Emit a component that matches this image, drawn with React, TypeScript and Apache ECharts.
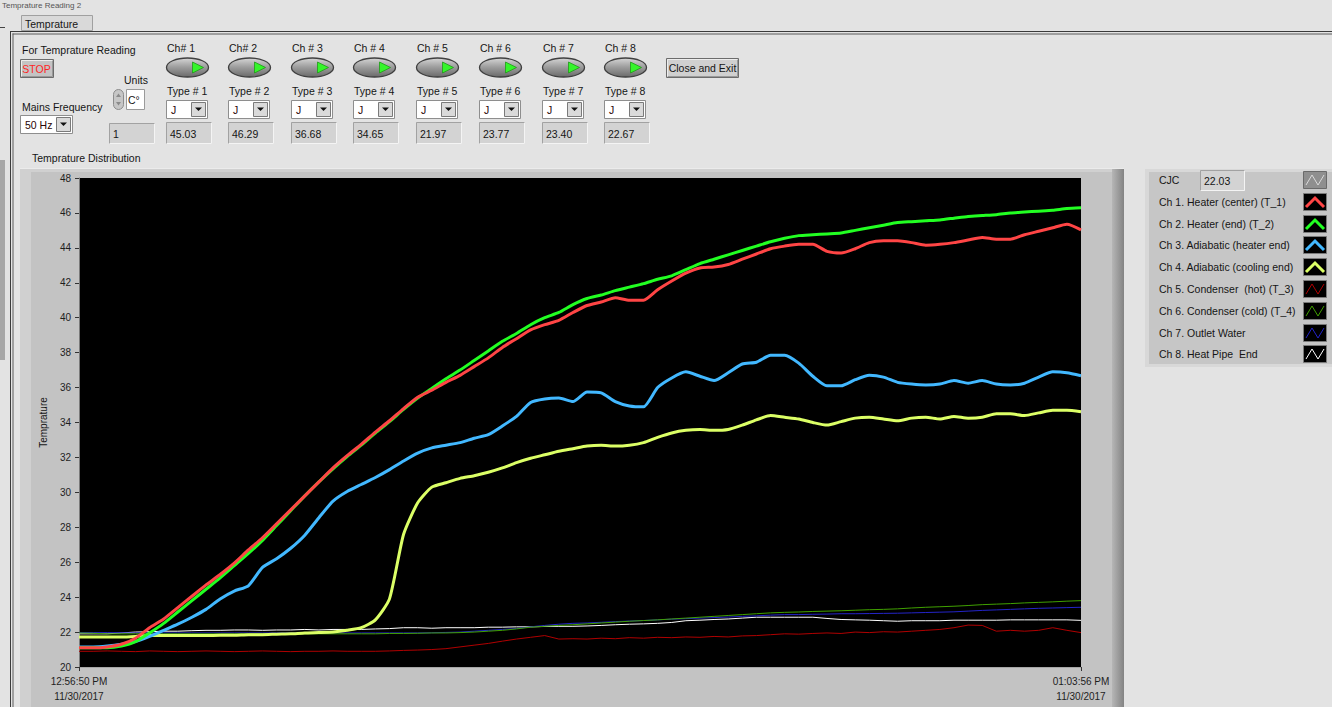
import React, { useEffect, useRef } from 'react';
import * as echarts from 'echarts';

// ---------------- DATA ----------------
// time in seconds after 12:56:50 PM
const TIME_S = [
  0, 6, 12, 18, 24, 30, 36, 42, 48, 54, 60, 66, 72, 78, 84, 90, 96, 102, 108, 114,
  120, 126, 132, 138, 144, 150, 156, 162, 168, 174, 180, 186, 192, 198, 204, 210, 216, 222, 228, 234,
  240, 246, 252, 258, 264, 270, 276, 282, 288, 294, 300, 306, 312, 318, 324, 330, 336, 342, 348, 354,
  360, 366, 372, 378, 384, 390, 396, 402, 408, 414, 420, 426,
];

const CH1_HEATER_CENTER = [
  21.1, 21.1, 21.15, 21.3, 21.65, 22.25, 22.75, 23.4, 24.05, 24.7,
  25.3, 25.95, 26.7, 27.4, 28.2, 29.0, 29.8, 30.6, 31.4, 32.1,
  32.75, 33.45, 34.1, 34.8, 35.45, 35.85, 36.3, 36.7, 37.2, 37.7,
  38.3, 38.8, 39.3, 39.6, 39.85, 40.3, 40.7, 40.9, 41.15, 41.0,
  41.0, 41.6, 42.1, 42.55, 42.85, 42.9, 43.05, 43.35, 43.65, 43.95,
  44.1, 44.2, 44.2, 43.8, 43.7, 43.95, 44.3, 44.4, 44.4, 44.3,
  44.15, 44.2, 44.3, 44.45, 44.6, 44.5, 44.5, 44.75, 44.95, 45.15,
  45.35, 45.03,
];

const CH2_HEATER_END = [
  21.1, 21.1, 21.1, 21.2, 21.45, 21.95, 22.5, 23.15, 23.8, 24.45,
  25.1, 25.8, 26.5, 27.25, 28.1, 28.95, 29.8, 30.6, 31.35, 32.05,
  32.7, 33.4, 34.05, 34.75, 35.4, 35.95, 36.5, 37.0, 37.55, 38.1,
  38.65, 39.1, 39.6, 40.0, 40.3, 40.75, 41.1, 41.3, 41.55, 41.75,
  41.95, 42.2, 42.4, 42.75, 43.1, 43.35, 43.6, 43.85, 44.1, 44.35,
  44.55, 44.7, 44.75, 44.8, 44.85, 45.0, 45.15, 45.3, 45.45, 45.5,
  45.55, 45.6, 45.7, 45.8, 45.85, 45.9, 46.0, 46.05, 46.1, 46.15,
  46.25, 46.29,
];

const CH3_ADIABATIC_HEATER = [
  21.15, 21.15, 21.2, 21.3, 21.45, 21.75, 22.1, 22.45, 22.85, 23.3,
  23.9, 24.35, 24.65, 25.7, 26.2, 26.8, 27.55, 28.55, 29.5, 30.05,
  30.45, 30.85, 31.3, 31.8, 32.25, 32.55, 32.7, 32.85, 33.1, 33.3,
  33.8, 34.35, 35.15, 35.35, 35.4, 35.2, 35.75, 35.7, 35.2, 34.95,
  34.9, 36.0, 36.55, 36.9, 36.65, 36.4, 36.85, 37.35, 37.45, 37.85,
  37.85, 37.4, 36.65, 36.1, 36.1, 36.45, 36.7, 36.6, 36.3, 36.2,
  36.15, 36.2, 36.4, 36.25, 36.4, 36.2, 36.15, 36.25, 36.6, 36.9,
  36.85, 36.68,
];

const CH4_ADIABATIC_COOLING = [
  21.72, 21.72, 21.72, 21.72, 21.75, 21.8, 21.8, 21.8, 21.8, 21.8,
  21.82, 21.82, 21.85, 21.85, 21.88, 21.9, 21.95, 21.97, 22.0, 22.1,
  22.25, 22.7, 23.9, 27.6, 29.4, 30.3, 30.55, 30.8, 30.95, 31.15,
  31.4, 31.7, 31.95, 32.15, 32.35, 32.5, 32.65, 32.7, 32.65, 32.7,
  32.85, 33.15, 33.4, 33.55, 33.6, 33.55, 33.6, 33.85, 34.15, 34.4,
  34.3, 34.2, 34.0, 33.85, 34.05, 34.25, 34.3, 34.2, 34.1, 34.25,
  34.3, 34.2, 34.35, 34.25, 34.3, 34.5, 34.5, 34.4, 34.55, 34.7,
  34.7, 34.62,
];

const CH5_CONDENSER_HOT = [
  20.9, 20.9, 20.92, 20.9, 20.88, 20.92, 20.9, 20.88, 20.9, 20.92,
  20.9, 20.88, 20.9, 20.92, 20.9, 20.88, 20.9, 20.9, 20.92, 20.9,
  20.9, 20.9, 20.92, 20.95, 20.97, 21.0, 21.05, 21.15, 21.25, 21.35,
  21.48, 21.6, 21.7, 21.8, 21.6, 21.62, 21.6, 21.65, 21.62, 21.68,
  21.65, 21.7, 21.68, 21.72, 21.7, 21.75, 21.72, 21.78, 21.8, 21.85,
  21.9, 21.88, 21.92, 21.95, 21.92, 22.0, 21.97, 22.02, 22.0, 22.05,
  22.1, 22.15, 22.25, 22.4, 22.38, 22.05, 22.1, 22.05, 22.1, 22.25,
  22.1, 21.97,
];

const CH6_CONDENSER_COLD = [
  21.95, 21.93, 21.9, 21.9, 21.9, 21.9, 21.9, 21.9, 21.9, 21.9,
  21.9, 21.9, 21.9, 21.9, 21.9, 21.9, 21.9, 21.9, 21.9, 21.9,
  21.9, 21.9, 21.92, 21.92, 21.93, 21.95, 21.95, 21.97, 22.0, 22.05,
  22.1, 22.18, 22.28, 22.33, 22.38, 22.42, 22.47, 22.52, 22.57, 22.62,
  22.66, 22.7, 22.75, 22.8, 22.85, 22.9, 22.95, 23.0, 23.05, 23.1,
  23.13, 23.15, 23.18, 23.2, 23.22, 23.25, 23.28, 23.3, 23.33, 23.38,
  23.42, 23.45, 23.48, 23.52, 23.57, 23.6, 23.63, 23.67, 23.7, 23.73,
  23.77, 23.8,
];

const CH7_OUTLET_WATER = [
  21.97, 21.97, 21.97, 21.96, 21.95, 21.95, 21.95, 21.95, 21.95, 21.95,
  21.95, 21.95, 21.95, 21.95, 21.95, 21.95, 21.95, 21.95, 21.95, 21.95,
  21.95, 21.95, 21.95, 21.95, 21.95, 21.96, 21.98, 22.0, 22.05, 22.1,
  22.15, 22.2, 22.3, 22.38, 22.45, 22.5, 22.52, 22.56, 22.6, 22.63,
  22.66, 22.7, 22.74, 22.77, 22.8, 22.83, 22.86, 22.9, 22.93, 22.97,
  23.0, 23.0, 23.02, 23.03, 23.05, 23.05, 23.06, 23.07, 23.08, 23.1,
  23.12, 23.14, 23.16, 23.2, 23.24, 23.27, 23.3, 23.33, 23.36, 23.38,
  23.4, 23.42,
];

const CH8_HEAT_PIPE_END = [
  21.9, 21.9, 21.9, 21.95, 22.0, 22.02, 22.05, 22.05, 22.08, 22.1,
  22.1, 22.12, 22.12, 22.1, 22.12, 22.12, 22.15, 22.12, 22.15, 22.15,
  22.15, 22.18, 22.2, 22.25, 22.25, 22.22, 22.25, 22.25, 22.25, 22.28,
  22.28, 22.3, 22.3, 22.32, 22.33, 22.33, 22.35, 22.38, 22.42, 22.45,
  22.47, 22.5, 22.55, 22.65, 22.68, 22.72, 22.75, 22.8, 22.85, 22.85,
  22.85, 22.85, 22.85, 22.78, 22.72, 22.7, 22.68, 22.65, 22.62, 22.65,
  22.65, 22.65, 22.68, 22.68, 22.68, 22.68, 22.7, 22.7, 22.7, 22.7,
  22.7, 22.67,
];

const Y_MIN = 20;
const Y_MAX = 48;
const Y_STEP = 2;
const X_TICK_LABELS = ['12:56:50 PM\n11/30/2017', '01:03:56 PM\n11/30/2017'];

const CHANNEL_LABELS = ['Ch# 1', 'Ch# 2', 'Ch # 3', 'Ch # 4', 'Ch # 5', 'Ch # 6', 'Ch # 7', 'Ch # 8'];
const TYPE_LABELS = ['Type # 1', 'Type # 2', 'Type # 3', 'Type # 4', 'Type # 5', 'Type # 6', 'Type # 7', 'Type # 8'];
const TYPE_VALUES = ['J', 'J', 'J', 'J', 'J', 'J', 'J', 'J'];
const CHANNEL_READINGS = ['45.03', '46.29', '36.68', '34.65', '21.97', '23.77', '23.40', '22.67'];
const CJC_READING = '22.03';
const LEGEND_NAMES = [
  'Ch 1. Heater (center) (T_1)',
  'Ch 2. Heater (end) (T_2)',
  'Ch 3. Adiabatic (heater end)',
  'Ch 4. Adiabatic (cooling end)',
  'Ch 5. Condenser  (hot) (T_3)',
  'Ch 6. Condenser (cold) (T_4)',
  'Ch 7. Outlet Water',
  'Ch 8. Heat Pipe  End',
];

// ---------------- STYLE ----------------
const SERIES_VALUES = [
  CH1_HEATER_CENTER, CH2_HEATER_END, CH3_ADIABATIC_HEATER, CH4_ADIABATIC_COOLING,
  CH5_CONDENSER_HOT, CH6_CONDENSER_COLD, CH7_OUTLET_WATER, CH8_HEAT_PIPE_END,
];
const SERIES_COLORS = ['#ff4545', '#22ff22', '#42b8ff', '#dcff66', '#b00000', '#40a000', '#2424c8', '#ffffff'];
const SERIES_WIDTHS = [3, 3, 3, 3, 1, 1, 1, 1];

const FONT = "'Liberation Sans', Arial, Helvetica, sans-serif";
const FS = 10.5;
const BX = [166, 228, 291, 353, 416, 479, 542, 604];

const rect = (x: number, y: number, w: number, h: number, fill: any, stroke?: string, z = 0): any => ({
  type: 'rect', z, silent: true,
  shape: { x, y, width: w, height: h },
  style: stroke ? { fill, stroke, lineWidth: 1 } : { fill },
});
const pline = (pts: number[][], stroke: string, lw = 1, z = 1): any => ({
  type: 'polyline', z, silent: true, shape: { points: pts }, style: { stroke, lineWidth: lw, fill: 'none' },
});
const pgon = (pts: number[][], fill: any, z = 2, stroke?: string): any => ({
  type: 'polygon', z, silent: true, shape: { points: pts },
  style: stroke ? { fill, stroke, lineWidth: 0.8 } : { fill },
});
const txt = (x: number, y: number, s: string, o: any = {}): any => ({
  type: 'text', z: o.z ?? 5, silent: true, x, y,
  style: {
    text: s, fill: o.fill ?? '#151515', fontSize: o.size ?? FS, fontFamily: FONT,
    align: o.align ?? 'left', verticalAlign: 'middle',
    textAlign: o.align ?? 'left', textVerticalAlign: 'middle',
  },
});

const insetBox = (x: number, y: number, w: number, h: number): any[] => [
  rect(x, y, w, h, '#d3d3d3'),
  pline([[x + 0.5, y + h], [x + 0.5, y + 0.5], [x + w, y + 0.5]], '#a2a2a2'),
  pline([[x + 0.5, y + h - 0.5], [x + w - 0.5, y + h - 0.5], [x + w - 0.5, y + 0.5]], '#f4f4f4'),
];

const raisedButton = (x: number, y: number, w: number, h: number, fill: string): any[] => [
  rect(x + 0.5, y + 0.5, w, h, fill, '#6c6c6c'),
  pline([[x + 1.5, y + h - 1], [x + 1.5, y + 1.5], [x + w - 1, y + 1.5]], '#ededed'),
  pline([[x + 2, y + h - 0.5], [x + w - 0.5, y + h - 0.5], [x + w - 0.5, y + 2]], '#999999'),
];

const dropdown = (x: number, y: number, w: number, h: number, label: string): any[] => {
  const bx = x + w - 16;
  const cx = bx + 7.5;
  const cy = y + h / 2;
  return [
    rect(x + 0.5, y + 0.5, w, h, '#ffffff', '#8e8e8e'),
    rect(bx + 0.5, y + 2.5, 14, h - 4, '#dadada', '#7a7a7a', 1),
    pgon([[cx - 3.5, cy - 1.5], [cx + 3.5, cy - 1.5], [cx, cy + 2]], '#111', 2),
    txt(x + 5, cy + 0.5, label, { fill: '#2a0505' }),
  ];
};

const led = (x: number): any[] => [
  {
    type: 'ellipse', z: 1, silent: true,
    shape: { cx: x + 21.5, cy: 67.5, rx: 21, ry: 9.5 },
    style: {
      fill: { type: 'linear', x: 0, y: 0, x2: 0, y2: 1, colorStops: [
        { offset: 0, color: '#d6d6d6' }, { offset: 0.45, color: '#a0a0a0' }, { offset: 1, color: '#6a6a6a' },
      ] },
      stroke: '#3f3f3f', lineWidth: 1.3,
    },
  },
  pgon([[x + 26.5, 62], [x + 37.5, 67.5], [x + 26.5, 73]], '#35f52a', 2, '#1f9a18'),
];

function buildGraphics(): any[] {
  const g: any[] = [];
  // chart frame (below the grid)
  g.push(rect(20, 168, 1104, 545, '#d0d0d0', undefined, -3));
  g.push(rect(31, 172, 1081, 541, '#c3c3c3', undefined, -3));
  g.push({
    type: 'rect', z: -3, silent: true, shape: { x: 1112, y: 168, width: 12, height: 545 },
    style: { fill: { type: 'linear', x: 0, y: 0, x2: 1, y2: 0, colorStops: [
      { offset: 0, color: '#b6b6b6' }, { offset: 1, color: '#838383' },
    ] } },
  });
  g.push(pline([[20, 168.5], [1124, 168.5]], '#ebebeb', 1, -2));

  // left edge bits / panel border
  g.push(rect(0, 160, 5, 200, '#a7a7a7'));
  g.push(pline([[0, 27.5], [5, 27.5]], '#444'));
  g.push(pline([[10.5, 31], [10.5, 707]], '#3a3a3a'));
  g.push(pline([[13, 33.5], [13, 707]], '#5a5a5a'));
  g.push(pline([[10, 31.5], [1332, 31.5]], '#3a3a3a'));
  g.push(pline([[12.5, 34], [1332, 34]], '#5a5a5a'));
  g.push(txt(2, 5, 'Temprature Reading 2', { size: 8, fill: '#555' }));

  // tab
  g.push(rect(21.5, 15.5, 71, 15, '#d9d9d9', '#a0a0a0'));
  g.push(txt(25, 23.5, 'Temprature'));

  // left controls
  g.push(txt(22, 50, 'For Temprature Reading'));
  g.push(...raisedButton(20, 59, 33, 18, '#c4c4c4'));
  g.push(txt(36.5, 68.5, 'STOP', { fill: '#ff2424', align: 'center' }));
  g.push(txt(124, 80, 'Units'));
  g.push({ type: 'rect', z: 1, silent: true, shape: { x: 113.5, y: 89.5, width: 10, height: 20, r: 5 },
    style: { fill: '#c6c6c6', stroke: '#8c8c8c', lineWidth: 1 } });
  g.push(pgon([[116, 97], [121, 97], [118.5, 93.5]], '#8a8a8a'));
  g.push(pgon([[116, 102], [121, 102], [118.5, 105.5]], '#8a8a8a'));
  g.push(rect(126.5, 89.5, 18, 20, '#ffffff', '#9a9a9a'));
  g.push(txt(128, 99.5, 'C°'));
  g.push(txt(22, 107, 'Mains Frequency'));
  g.push(...dropdown(20, 115, 52, 18, '50 Hz'));
  g.push(...insetBox(109, 123, 46, 21));
  g.push(txt(113, 133.5, '1'));

  // channel columns
  BX.forEach((x, i) => {
    g.push(txt(x + 1, 48, CHANNEL_LABELS[i]));
    g.push(...led(x));
    g.push(txt(x + 1, 91, TYPE_LABELS[i]));
    g.push(...dropdown(x, 100, 41, 18, TYPE_VALUES[i]));
    g.push(...insetBox(x, 122, 46, 22));
    g.push(txt(x + 4, 133.5, CHANNEL_READINGS[i]));
  });

  g.push(...raisedButton(666, 58, 72, 19, '#d0d0d0'));
  g.push(txt(702.5, 68, 'Close and Exit', { align: 'center' }));

  g.push(txt(32, 158, 'Temprature Distribution'));

  // legend panel
  g.push(rect(1145, 169, 200, 198, '#d8d8d8'));
  g.push(rect(1149, 172, 200, 192, '#c6c6c6'));
  const rowY = (r: number) => 180 + 21.8 * r;
  g.push(txt(1159, rowY(0), 'CJC'));
  g.push(...insetBox(1200, 170, 45, 21));
  g.push(txt(1204, 181, CJC_READING));
  const swatch = (r: number, fill: string, color: string, caret: boolean) => {
    const x = 1303;
    const y = Math.round(rowY(r) - 9);
    g.push(rect(x + 0.5, y + 0.5, 23, 17, fill, fill === '#000' ? '#7a7a7a' : '#6a6a6a'));
    if (caret) {
      g.push(pline([[x + 3, y + 14], [x + 12, y + 5], [x + 21, y + 14]], color, 3, 2));
    } else {
      g.push(pline([[x + 3, y + 14], [x + 9, y + 4], [x + 15, y + 14], [x + 21, y + 4]], color, 1, 2));
    }
  };
  swatch(0, '#8f8f8f', '#dadada', false);
  LEGEND_NAMES.forEach((name, i) => {
    g.push(txt(1159, rowY(i + 1), name));
    swatch(i + 1, '#000', SERIES_COLORS[i], i < 4);
  });
  return g;
}

function buildOption(): any {
  // draw thin channels first, Ch 1 on top
  const order = [7, 6, 5, 4, 3, 2, 1, 0];
  const series = order.map((idx) => ({
    name: LEGEND_NAMES[idx],
    type: 'line',
    data: TIME_S.map((t, k) => [t, SERIES_VALUES[idx][k]]),
    showSymbol: false,
    symbol: 'none',
    smooth: idx < 4 ? 0.2 : false,
    silent: true,
    emphasis: { disabled: true },
    lineStyle: { color: SERIES_COLORS[idx], width: SERIES_WIDTHS[idx] },
    itemStyle: { color: SERIES_COLORS[idx] },
  }));
  return {
    animation: false,
    backgroundColor: '#e3e3e3',
    grid: { left: 79, right: 251, top: 178, bottom: 40, show: true, backgroundColor: '#000000', borderWidth: 0 },
    xAxis: {
      type: 'value', min: TIME_S[0], max: TIME_S[TIME_S.length - 1], interval: TIME_S[TIME_S.length - 1],
      axisLine: { show: true, lineStyle: { color: '#a6a6a6' } },
      axisTick: { show: true, length: 4, lineStyle: { color: '#333' } },
      splitLine: { show: false },
      axisLabel: {
        showMinLabel: true, showMaxLabel: true, margin: 7, lineHeight: 15,
        fontSize: 10, fontFamily: FONT, color: '#1e1e1e',
        formatter: (v: number) => (v === TIME_S[0] ? X_TICK_LABELS[0] : X_TICK_LABELS[1]),
      },
    },
    yAxis: {
      type: 'value', min: Y_MIN, max: Y_MAX, interval: Y_STEP,
      name: 'Temprature', nameLocation: 'middle', nameGap: 28,
      nameTextStyle: { fontSize: 10, fontFamily: FONT, color: '#151515' },
      axisLine: { show: true, lineStyle: { color: '#7a7a7a' } },
      axisTick: { show: true, length: 4, lineStyle: { color: '#333' } },
      splitLine: { show: false },
      axisLabel: { margin: 8, fontSize: 10, fontFamily: FONT, color: '#1e1e1e' },
    },
    visualMap: [{
      type: 'piecewise', show: false, dimension: 0, seriesIndex: 0,
      pieces: [
        { lt: 22, color: '#f2f2f2' },
        { gte: 22, lt: 240, color: '#8e8e8e' },
        { gte: 240, color: '#ffffff' },
      ],
    }],
    series,
    graphic: { elements: buildGraphics() },
  };
}

export default function App() {
  const ref = useRef<HTMLDivElement>(null);
  useEffect(() => {
    const el = ref.current;
    if (!el) return;
    const chart = echarts.init(el, undefined, { renderer: 'svg' });
    chart.setOption(buildOption());
    return () => chart.dispose();
  }, []);
  return (
    <div
      ref={ref}
      style={{ position: 'fixed', left: 0, top: 0, width: 1332, height: 707, background: '#e3e3e3', overflow: 'hidden' }}
    />
  );
}
